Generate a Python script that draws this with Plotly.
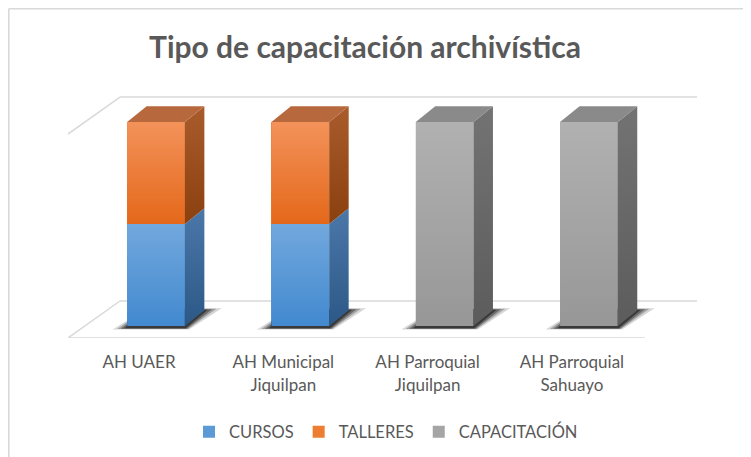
import plotly.graph_objects as go

# ---------------- data ----------------
categories = ["AH UAER", "AH Municipal<br>Jiquilpan", "AH Parroquial<br>Jiquilpan", "AH Parroquial<br>Sahuayo"]
series_names = ["CURSOS", "TALLERES", "CAPACITACIÓN"]
cursos = [1, 1, 0, 0]
talleres = [1, 1, 0, 0]
capacitacion = [0, 0, 2, 2]
axis_max = 2

# ---------------- styling ----------------
FONT = "Lato"
TXT = "#595959"
GRID = "#d9d9d9"
front_mid = ["#5b9bd5", "#ed7d31", "#a5a5a5"]
front_grad = [  # bottom -> top
    ["#4289cf", "#72a8dd"],
    ["#e4681a", "#f3925a"],
    ["#979797", "#b1b1b1"],
]
side_grad = [
    ["#2c5887", "#4b78a9"],
    ["#8b400f", "#a95b2c"],
    ["#5c5c5c", "#737373"],
]
top_col = ["#6d93bf", "#b7683c", "#8a8a8a"]

# geometry (in axis units)
BAR_W = 0.4
DX, DY = 0.135, 0.155          # bar depth
WX, WY = 0.36, 0.3627          # floor depth
FRONT_SHIFT = 0.118            # floor front vs bar front (x)
X_RANGE = [-0.61, 3.749]
Y_RANGE = [-0.1176, 2.265]

# page (window) and the 8px body margin of the html page
W, H = 751, 457
OFF = 8
FW, FH = W - OFF, H - OFF
# plot area in page pixels
PL, PR, PT, PB = 68, 697, 95, 338


def paper_x(px):
    return (px - PL) / (PR - PL)


def paper_y(py):
    return (PB - py) / (PB - PT)


def cont_x(px):
    return (px - OFF) / FW


def cont_y(py):
    return 1 - (py - OFF) / FH


xs = list(range(len(categories)))
series = [cursos, talleres, capacitacion]

fig = go.Figure()

# front faces as bars (legend)
for name, vals, col in zip(series_names, series, front_mid):
    fig.add_trace(go.Bar(x=xs, y=vals, width=BAR_W, name=name,
                         marker=dict(color=col, line=dict(width=0)),
                         hoverinfo="skip"))

# shadows
for i in xs:
    total = sum(s[i] for s in series)
    if total <= 0:
        continue
    for grow, alpha in [(1.0, 0.16), (0.7, 0.25), (0.45, 0.35), (0.2, 0.45)]:
        px_ = [i - 0.2 - 0.1 * grow, i + 0.2 + 0.03 * grow, i + 0.2 + DX + 0.12 * grow, i - 0.2 + DX]
        py_ = [-0.02 - 0.015 * grow, -0.02 - 0.015 * grow, DY + 0.02 * grow, DY + 0.02 * grow]
        fig.add_trace(go.Scatter(x=px_ + [px_[0]], y=py_ + [py_[0]], mode="lines",
                                 fill="toself", fillcolor=f"rgba(0,0,0,{alpha})",
                                 line=dict(width=0), showlegend=False, hoverinfo="skip"))

# 3D faces
for i in xs:
    base = 0
    segs = []
    for k, s in enumerate(series):
        v = s[i]
        if v > 0:
            segs.append((k, base, base + v))
            base += v
    for j, (k, y0, y1) in enumerate(segs):
        x0, x1 = i - BAR_W / 2, i + BAR_W / 2
        # front
        fig.add_trace(go.Scatter(x=[x0, x1, x1, x0, x0], y=[y0, y0, y1, y1, y0], mode="lines",
                                 fill="toself", line=dict(width=0),
                                 fillgradient=dict(type="vertical",
                                                   colorscale=[[0, front_grad[k][0]], [1, front_grad[k][1]]]),
                                 showlegend=False, hoverinfo="skip"))
        # side
        fig.add_trace(go.Scatter(x=[x1, x1 + DX, x1 + DX, x1, x1], y=[y0, y0 + DY, y1 + DY, y1, y0], mode="lines",
                                 fill="toself", line=dict(width=0),
                                 fillgradient=dict(type="vertical",
                                                   colorscale=[[0, side_grad[k][0]], [1, side_grad[k][1]]]),
                                 showlegend=False, hoverinfo="skip"))
        if j == len(segs) - 1:
            fig.add_trace(go.Scatter(x=[x0, x1, x1 + DX, x0 + DX, x0], y=[y1, y1, y1 + DY, y1 + DY, y1], mode="lines",
                                     fill="toself", fillcolor=top_col[k], line=dict(width=0),
                                     showlegend=False, hoverinfo="skip"))

# floor / wall gridlines
fy0 = Y_RANGE[0]
xl, xr = X_RANGE
lines = [
    (xl, fy0, xr - WX, fy0),                               # floor front edge
    (xl, fy0, xl + WX, fy0 + WY),                          # floor left diagonal
    (xl + WX, fy0 + WY, xr, fy0 + WY),                     # back wall 0
    (xl, fy0 + axis_max, xl + WX, fy0 + WY + axis_max),    # side diagonal at max
    (xl + WX, fy0 + WY + axis_max, xr, fy0 + WY + axis_max),  # back wall max
]
shapes = [dict(type="line", xref="x", yref="y", x0=a, y0=b, x1=c, y1=d,
               line=dict(color=GRID, width=1.5), layer="below") for a, b, c, d in lines]

# chart border (left and top)
bx, by = paper_x(OFF + 0.8), paper_y(OFF + 0.8)
shapes.append(dict(type="line", xref="paper", yref="paper", x0=bx, y0=by,
                   x1=bx, y1=paper_y(H + 5), line=dict(color=GRID, width=1.6)))
shapes.append(dict(type="line", xref="paper", yref="paper", x0=bx, y0=by,
                   x1=paper_x(W + 5), y1=by, line=dict(color=GRID, width=1.6)))

fig.update_layout(
    width=FW, height=FH, autosize=False,
    margin=dict(l=PL - OFF, r=FW - (PR - OFF), t=PT - OFF, b=FH - (PB - OFF), pad=0),
    paper_bgcolor="white", plot_bgcolor="white",
    barmode="stack", bargap=0,
    title=dict(text="<b>Tipo de capacitación archivística</b>", x=cont_x(365), xanchor="center",
               y=cont_y(47), yanchor="middle", yref="container",
               font=dict(family=FONT, size=30, color=TXT)),
    xaxis=dict(range=X_RANGE, showgrid=False, zeroline=False, showline=False,
               tickvals=[x - FRONT_SHIFT for x in xs], ticktext=categories,
               ticks="outside", ticklen=9, tickcolor="rgba(0,0,0,0)",
               tickfont=dict(family=FONT, size=17, color=TXT), fixedrange=True),
    yaxis=dict(range=Y_RANGE, showgrid=False, zeroline=False, showline=False,
               showticklabels=False, fixedrange=True),
    legend=dict(orientation="h", xref="container", yref="container",
                x=cont_x(386), xanchor="center", y=cont_y(432), yanchor="middle",
                font=dict(family=FONT, size=16.5, color=TXT), itemwidth=30,
                traceorder="normal"),
    shapes=shapes,
    showlegend=True,
)

fig.write_html("out.html")
